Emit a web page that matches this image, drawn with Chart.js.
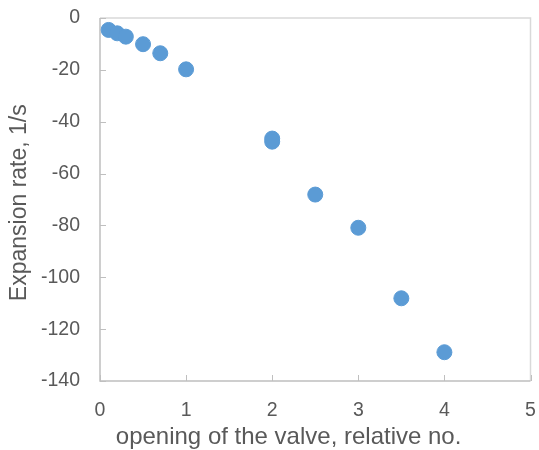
<!DOCTYPE html>
<html>
<head>
<meta charset="utf-8">
<script src="https://cdn.jsdelivr.net/npm/chart.js@4"></script>
<style>
  html, body { margin: 0; padding: 0; background: #fff; overflow: hidden; }
  #wrap { width: 539px; height: 462px; }
</style>
</head>
<body>
<div id="wrap"><canvas id="chart"></canvas></div>
<script>
// valve opening (relative) and measured expansion rate (1/s)
const opening = [0.1, 0.2, 0.3, 0.5, 0.7, 1.0, 2.0, 2.0, 2.5, 3.0, 3.5, 4.0];
const expansionRate = [-4.6, -5.9, -7.2, -10.1, -13.6, -19.8, -46.5, -47.7, -68.1, -80.9, -108.1, -128.9];
const xTicks = [0, 1, 2, 3, 4, 5];
const yTicks = [0, -20, -40, -60, -80, -100, -120, -140];

const textColor = '#595959';
const fontFamily = '"Liberation Sans", Arial, sans-serif';

// frame around plot area + short inside tick marks
const framePlugin = {
    id: 'frame',
    beforeDatasetsDraw(chart) {
        const { ctx, chartArea: a, scales } = chart;
        ctx.save();
        ctx.lineWidth = 1.5;
        ctx.strokeStyle = '#d9d9d9';
        ctx.beginPath();
        ctx.moveTo(a.left, a.top);
        ctx.lineTo(a.right, a.top);
        ctx.lineTo(a.right, a.bottom);
        ctx.stroke();

        ctx.strokeStyle = '#bfbfbf';
        ctx.beginPath();
        ctx.moveTo(a.left, a.top);
        ctx.lineTo(a.left, a.bottom);
        ctx.lineTo(a.right, a.bottom);
        ctx.stroke();

        ctx.lineWidth = 1;
        ctx.beginPath();
        xTicks.forEach(v => {
            const px = Math.round(scales.x.getPixelForValue(v)) + 0.5;
            ctx.moveTo(px, a.bottom);
            ctx.lineTo(px, a.bottom - 6);
        });
        yTicks.forEach(v => {
            const py = Math.round(scales.y.getPixelForValue(v)) + 0.5;
            ctx.moveTo(a.left, py);
            ctx.lineTo(a.left + 6, py);
        });
        ctx.stroke();
        ctx.restore();
    }
};

new Chart(document.getElementById('chart'), {
    type: 'scatter',
    data: {
        datasets: [{
            data: opening.map((x, i) => ({ x: x, y: expansionRate[i] })),
            backgroundColor: '#5b9bd5',
            borderColor: '#5b9bd5',
            pointRadius: 7.5,
            pointHoverRadius: 7.5
        }]
    },
    options: {
        responsive: true,
        maintainAspectRatio: false,
        animation: false,
        layout: { padding: { top: 18, right: 5, left: 0, bottom: 0 } },
        plugins: {
            legend: { display: false },
            tooltip: { enabled: false }
        },
        scales: {
            x: {
                type: 'linear',
                min: 0,
                max: 5,
                afterBuildTicks: s => { s.ticks = xTicks.map(v => ({ value: v })); },
                grid: { display: false },
                border: { display: false },
                ticks: {
                    color: textColor,
                    font: { family: fontFamily, size: 19.5 },
                    padding: 10
                },
                title: {
                    display: true,
                    text: 'opening of the valve, relative no.        ',
                    color: textColor,
                    font: { family: fontFamily, size: 24 },
                    padding: { top: 0, bottom: 10 }
                },
                afterFit: s => { s.height = 81; s.paddingLeft = 0; s.paddingRight = 0; }
            },
            y: {
                type: 'linear',
                min: -140,
                max: 0,
                afterBuildTicks: s => { s.ticks = yTicks.map(v => ({ value: v })); },
                grid: { display: false },
                border: { display: false },
                ticks: {
                    color: textColor,
                    font: { family: fontFamily, size: 19.5 },
                    padding: 12
                },
                title: {
                    display: true,
                    text: 'Expansion rate, 1/s ',
                    color: textColor,
                    font: { family: fontFamily, size: 23 },
                    padding: { top: 6, bottom: 0 }
                },
                afterFit: s => { s.width = 100; s.paddingTop = 0; s.paddingBottom = 0; }
            }
        }
    },
    plugins: [framePlugin]
});
</script>
</body>
</html>
